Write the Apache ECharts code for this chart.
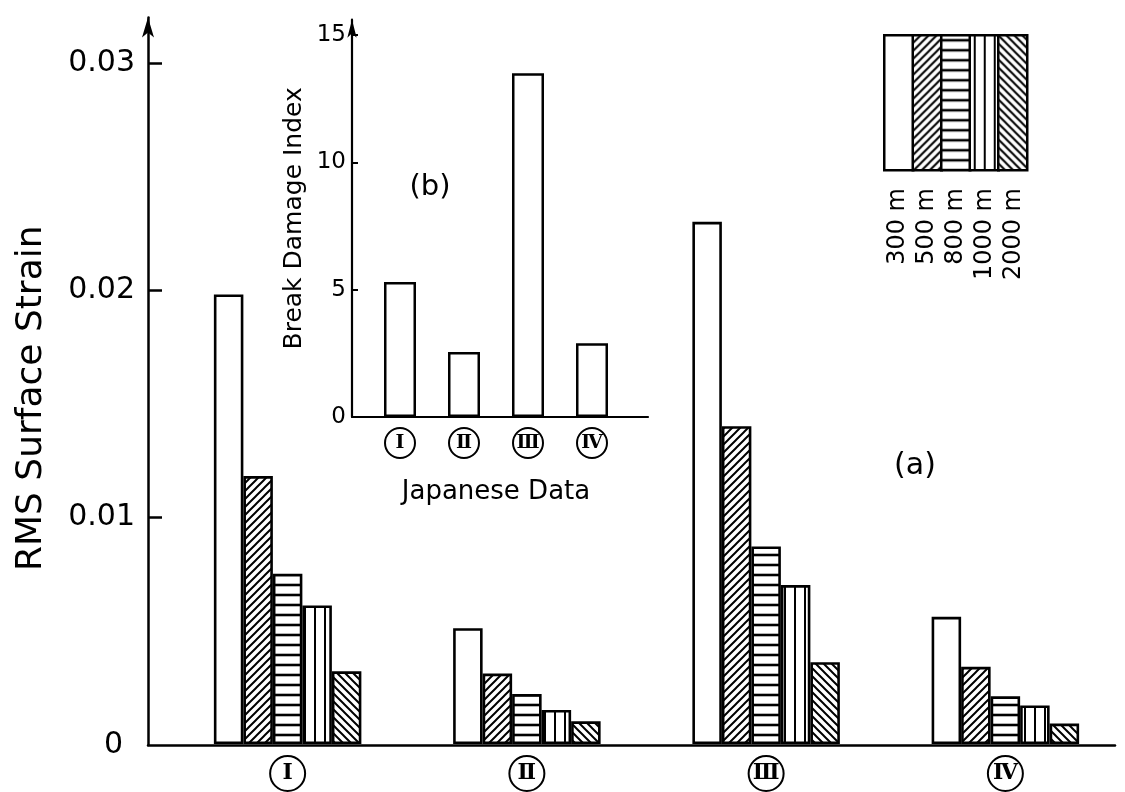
<!DOCTYPE html>
<html><head><meta charset="utf-8">
<script src="https://cdn.jsdelivr.net/npm/echarts@6/dist/echarts.min.js"></script>
<style>html,body{margin:0;padding:0;background:#fff}#c{width:1125px;height:792px}</style>
</head><body><div id="c"></div>
<script>
// ---- data ----
const categories = ['Ⅰ', 'Ⅱ', 'Ⅲ', 'Ⅳ'];
const spanNames = ['300 m', '500 m', '800 m', '1000 m', '2000 m'];
const strain300 = [0.0198, 0.0051, 0.0230, 0.0056];
const strain500 = [0.0118, 0.0031, 0.0140, 0.0034];
const strain800 = [0.0075, 0.0022, 0.0087, 0.0021];
const strain1000 = [0.0061, 0.0015, 0.0070, 0.0017];
const strain2000 = [0.0032, 0.0010, 0.0036, 0.0009];
const damageIndex = [5.3, 2.55, 13.5, 2.9];
const strainLabelTicks = [0, 0.01, 0.02, 0.03];
const strainTickMarks = [0.01, 0.02, 0.03];
const damageLabelTicks = [0, 5, 10, 15];

// ---- hatch patterns ----
function hatch(kind) {
  const s = (kind === 'h' || kind === 'v') ? 10 : 8;
  const c = document.createElement('canvas'); c.width = s; c.height = s;
  const g = c.getContext('2d');
  g.fillStyle = '#fff'; g.fillRect(0, 0, s, s);
  g.strokeStyle = '#000';
  g.lineWidth = (kind === 'h') ? 2.6 : 2.0;
  g.beginPath();
  if (kind === 'f') { g.moveTo(0, s); g.lineTo(s, 0); g.moveTo(-2, 2); g.lineTo(2, -2); g.moveTo(s - 2, s + 2); g.lineTo(s + 2, s - 2); }
  else if (kind === 'b') { g.moveTo(0, 0); g.lineTo(s, s); g.moveTo(-2, s - 2); g.lineTo(2, s + 2); g.moveTo(s - 2, -2); g.lineTo(s + 2, 2); }
  else if (kind === 'h') { g.moveTo(0, s / 2); g.lineTo(s, s / 2); }
  else if (kind === 'v') { g.moveTo(s / 2, 0); g.lineTo(s / 2, s); }
  g.stroke();
  return { image: c, repeat: 'repeat' };
}
const fills = ['#ffffff', hatch('f'), hatch('h'), hatch('v'), hatch('b')];
const mainSeriesData = [strain300, strain500, strain800, strain1000, strain2000];

const FONT = 'DejaVu Sans';
const circled = (size, fs) => ({
  width: size, height: size, lineHeight: size, borderRadius: size / 2,
  borderColor: '#000', borderWidth: 2, align: 'center', verticalAlign: 'middle',
  fontFamily: 'DejaVu Serif', fontWeight: 'bold', fontSize: fs, color: '#000'
});

const chart = echarts.init(document.getElementById('c'), null, { renderer: 'canvas' });
const option = {
  animation: false,
  backgroundColor: '#fff',
  grid: [
    { left: 148, width: 967, top: 17.5, bottom: 47 },   // main axes frame
    { left: 168, width: 968, top: 17.5, bottom: 47 },   // main bars
    { left: 352, width: 296, top: 19.7, bottom: 375 },  // inset axes frame
    { left: 368, width: 256, top: 19.7, bottom: 375 }   // inset bars
  ],
  xAxis: [
    { gridIndex: 0, type: 'value', min: 0, max: 1,
      axisLine: { lineStyle: { color: '#000', width: 2.5 } }, axisTick: { show: false },
      axisLabel: { show: false }, splitLine: { show: false } },
    { gridIndex: 1, type: 'category', data: categories,
      axisLine: { show: false }, axisTick: { show: false }, splitLine: { show: false },
      axisLabel: { margin: 12, formatter: v => '{c|' + v + '}', rich: { c: circled(35, 22) } } },
    { gridIndex: 2, type: 'value', min: 0, max: 1,
      axisLine: { lineStyle: { color: '#000', width: 2.2 } }, axisTick: { show: false },
      axisLabel: { show: false }, splitLine: { show: false } },
    { gridIndex: 3, type: 'category', data: categories,
      axisLine: { show: false }, axisTick: { show: false }, splitLine: { show: false },
      axisLabel: { margin: 11, formatter: v => '{c|' + v + '}', rich: { c: circled(30, 19) } },
      name: 'Japanese Data', nameLocation: 'middle', nameGap: 62,
      nameTextStyle: { fontFamily: FONT, fontSize: 26, color: '#000' } }
  ],
  yAxis: [
    { gridIndex: 0, type: 'value', min: 0, max: 0.032, interval: 0.01,
      axisLine: { show: true, symbol: ['none', 'arrow'], symbolSize: [9, 20], lineStyle: { color: '#000', width: 2.5 } },
      axisTick: { show: true, inside: true, length: 14, customValues: strainTickMarks, lineStyle: { color: '#000', width: 2.5 } },
      axisLabel: { customValues: strainLabelTicks, margin: 13, fontFamily: FONT, fontSize: 30, color: '#000',
        formatter: v => v === 0 ? '{z|0}' : v.toFixed(2),
        rich: { z: { fontFamily: FONT, fontSize: 30, color: '#000', padding: [0, 12, 0, 0] } } },
      splitLine: { show: false },
      name: 'RMS Surface Strain', nameLocation: 'middle', nameRotate: 90, nameGap: 98, nameMoveOverlap: false,
      nameTextStyle: { fontFamily: FONT, fontSize: 36, color: '#000', padding: [0, 34, 0, 0] } },
    { gridIndex: 1, type: 'value', min: 0, max: 0.032, show: false },
    { gridIndex: 2, type: 'value', min: 0, max: 15.6, interval: 5,
      axisLine: { show: true, symbol: ['none', 'arrow'], symbolSize: [7, 18], lineStyle: { color: '#000', width: 2.2 } },
      axisTick: { show: true, inside: true, length: 6, customValues: damageLabelTicks, lineStyle: { color: '#000', width: 2 } },
      axisLabel: { customValues: damageLabelTicks, margin: 6, fontFamily: FONT, fontSize: 23, color: '#000' },
      splitLine: { show: false },
      name: 'Break Damage Index', nameLocation: 'middle', nameRotate: 90, nameGap: 45,
      nameTextStyle: { fontFamily: FONT, fontSize: 25, color: '#000' } },
    { gridIndex: 3, type: 'value', min: 0, max: 15.6, show: false }
  ],
  legend: {
    data: spanNames, left: 883, top: 34, orient: 'horizontal', padding: 0,
    itemWidth: 29, itemHeight: 135, itemGap: -3, icon: 'rect',
    formatter: () => '', selectedMode: false,
    itemStyle: { borderColor: '#000', borderWidth: 2.5 }
  },
  graphic: [
    ...spanNames.map((n, i) => ({
      type: 'text', x: 883 + 14.5 + 29 * i, y: 188, rotation: Math.PI / 2,
      style: { text: n, fontFamily: FONT, fontSize: 24, fill: '#000', align: 'right', verticalAlign: 'middle' }
    })),
    { type: 'text', x: 430, y: 187, style: { text: '(b)', fontFamily: FONT, fontSize: 29, fill: '#000', align: 'center', verticalAlign: 'middle' } },
    { type: 'text', x: 915, y: 466, style: { text: '(a)', fontFamily: FONT, fontSize: 30, fill: '#000', align: 'center', verticalAlign: 'middle' } }
  ],
  series: [
    ...spanNames.map((n, i) => ({
      name: n, type: 'bar', xAxisIndex: 1, yAxisIndex: 1, data: mainSeriesData[i],
      barWidth: 29.5, barGap: '0%', silent: true,
      itemStyle: { color: fills[i], borderColor: '#000', borderWidth: 2.6 }
    })),
    { name: 'Japanese Data', type: 'bar', xAxisIndex: 3, yAxisIndex: 3, data: damageIndex,
      barWidth: 32, silent: true,
      itemStyle: { color: '#fff', borderColor: '#000', borderWidth: 2.5 } }
  ]
};
chart.setOption(option);
</script>
</body></html>
